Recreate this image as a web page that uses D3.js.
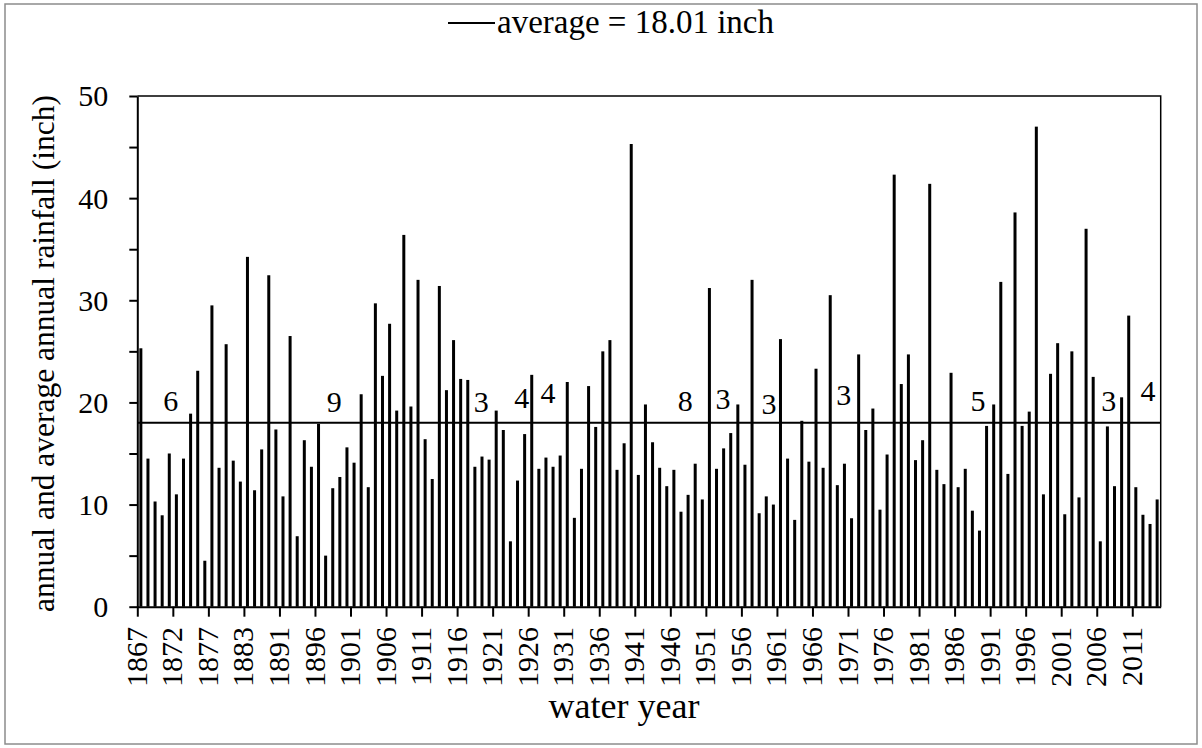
<!DOCTYPE html>
<html><head><meta charset="utf-8">
<title>annual rainfall</title>
<script src="https://cdn.jsdelivr.net/npm/d3@7"></script>
<style>
  body { margin: 0; background: #fff; }
  svg { display: block; font-family: "Liberation Serif", "Times New Roman", serif; }
  .axis path, .axis line { stroke: #000; stroke-width: 2; }
  .axis text { font-size: 30px; fill: #000; font-family: "Liberation Serif", "Times New Roman", serif; }
</style>
</head>
<body>
<svg id="chart" width="1202" height="748"></svg>

<script>
// water years (a few early years are missing from the record)
var years = [1867,1868,1869,1870,1871,1872,1873,1874,1875,1876,1877,
             1878,1879,1880,1881,1883,1884,1885,1889,1890].concat(d3.range(1891, 2015))

// annual rainfall, inch
var rainfall = [
  25.3, 14.5, 10.3, 8.95, 15.0, 11.0, 14.5, 18.9, 23.1, 4.5, 29.5, 13.6,
  25.7, 14.3, 12.25, 34.25, 11.4, 15.4, 32.45, 17.35, 10.8, 26.5, 6.9, 16.3,
  13.7, 17.9, 5.0, 11.6, 12.7, 15.6, 14.1, 20.8, 11.7, 29.7, 22.6, 27.7,
  19.2, 36.4, 19.6, 32.0, 16.4, 12.5, 31.4, 21.2, 26.1, 22.3, 22.2, 13.7,
  14.7, 14.4, 19.2, 17.3, 6.4, 12.35, 16.9, 22.7, 13.5, 14.6, 13.7, 14.8,
  22.0, 8.7, 13.5, 21.6, 17.6, 25.0, 26.1, 13.4, 16.0, 45.3, 12.9, 19.8,
  16.1, 13.6, 11.8, 13.4, 9.3, 10.95, 14.0, 10.5, 31.2, 13.5, 15.5, 17.0,
  19.8, 13.9, 32.0, 9.15, 10.8, 10.0, 26.2, 14.5, 8.5, 18.2, 14.2, 23.3,
  13.6, 30.5, 11.9, 14.0, 8.66, 24.7, 17.3, 19.4, 9.5, 14.9, 42.3, 21.8,
  24.7, 14.35, 16.3, 41.4, 13.4, 12.0, 22.9, 11.7, 13.5, 9.4, 7.45, 17.7,
  19.8, 31.8, 13.0, 38.6, 17.7, 19.1, 47.0, 11.0, 22.8, 25.8, 9.05, 25.0,
  10.7, 37.0, 22.5, 6.4, 17.65, 11.8, 20.5, 28.5, 11.7, 9.0, 8.1, 10.5
]

var average = 18.01

// runs of below-average years: label, position (category index), height (inch)
var runLabels = ["6", "9", "3", "4", "4", "8", "3", "3", "3", "5", "3", "4"]
var runAt     = [4.2, 27.2, 47.9, 53.6, 57.3, 76.6, 81.9, 88.4, 98.9, 117.8, 136.2, 141.7]
var runY      = [19.2, 19.1, 19.1, 19.5, 19.9, 19.2, 19.4, 18.9, 19.7, 19.2, 19.2, 20.1]

var yTicks = [0, 5, 10, 15, 20, 25, 30, 35, 40, 45, 50]
var labelEvery = 5

var svg = d3.select("#chart")

// plot area (note: "top" is taken by window.top)
var plotL = 137.3, plotR = 1160.7, plotT = 96, plotB = 606.7

// outer frame
svg.append("rect")
  .attr("x", 5).attr("y", 4).attr("width", 1192).attr("height", 740)
  .attr("fill", "#fff").attr("stroke", "#8c8c8c").attr("stroke-width", 1.5)

var x = d3.scaleBand()
  .domain(years)
  .range([plotL, plotR])
  .paddingInner(0.578)
  .paddingOuter(0.289)

// category index -> px (boundaries at integers)
var xi = d3.scaleLinear().domain([0, years.length]).range([plotL, plotR])

var y = d3.scaleLinear().domain([0, 50]).range([plotB, plotT])

// plot area top / right border
svg.append("path")
  .attr("d", "M" + plotL + "," + plotT + "H" + plotR + "V" + plotB)
  .attr("fill", "none").attr("stroke", "#000").attr("stroke-width", 1.5)

// bars
svg.append("g").selectAll("rect")
  .data(rainfall)
  .join("rect")
  .attr("x", (d, i) => x(years[i]))
  .attr("width", x.bandwidth())
  .attr("y", d => y(d))
  .attr("height", d => y(0) - y(d))
  .attr("fill", "#000")

// average line
svg.append("line")
  .attr("x1", plotL).attr("x2", plotR)
  .attr("y1", y(average)).attr("y2", y(average))
  .attr("stroke", "#000").attr("stroke-width", 2)

// run counts
svg.append("g").selectAll("text")
  .data(runLabels)
  .join("text")
  .attr("x", (d, i) => xi(runAt[i] + 0.5))
  .attr("y", (d, i) => y(runY[i]))
  .attr("text-anchor", "middle")
  .attr("font-size", 30)
  .text(d => d)

// y axis
var yAxis = d3.axisLeft(y)
  .tickValues(yTicks)
  .tickSize(8)
  .tickSizeOuter(0)
  .tickPadding(21)
  .tickFormat(d => d % 10 === 0 ? d : "")
svg.append("g").attr("class", "axis")
  .attr("transform", "translate(" + plotL + ",0)")
  .call(yAxis)
  .selectAll("text").attr("dy", "0.33em")

// x axis: tick marks at category boundaries
var tickIdx = d3.range(0, years.length, labelEvery)
var xAxis = d3.axisBottom(xi)
  .tickValues(tickIdx)
  .tickSize(10)
  .tickSizeOuter(0)
  .tickFormat("")
svg.append("g").attr("class", "axis")
  .attr("transform", "translate(0," + plotB + ")")
  .call(xAxis)

// rotated year labels
svg.append("g").selectAll("text")
  .data(tickIdx)
  .join("text")
  .attr("transform", i => "translate(" + (x(years[i]) + x.bandwidth() / 2 + 6) + ",627) rotate(-90)")
  .attr("text-anchor", "end")
  .attr("font-size", 30)
  .text(i => years[i])

// axis titles
svg.append("text")
  .attr("x", 624).attr("y", 718)
  .attr("text-anchor", "middle")
  .attr("font-size", 36)
  .text("water year")

svg.append("text")
  .attr("transform", "translate(54,353.5) rotate(-90)")
  .attr("text-anchor", "middle")
  .attr("font-size", 31.5)
  .text("annual and average annual rainfall (inch)")

// legend
svg.append("line")
  .attr("x1", 448).attr("x2", 495).attr("y1", 23).attr("y2", 23)
  .attr("stroke", "#000").attr("stroke-width", 2)
svg.append("text")
  .attr("x", 497).attr("y", 33)
  .attr("font-size", 33)
  .text("average = " + average + " inch")
</script>
</body>
</html>
